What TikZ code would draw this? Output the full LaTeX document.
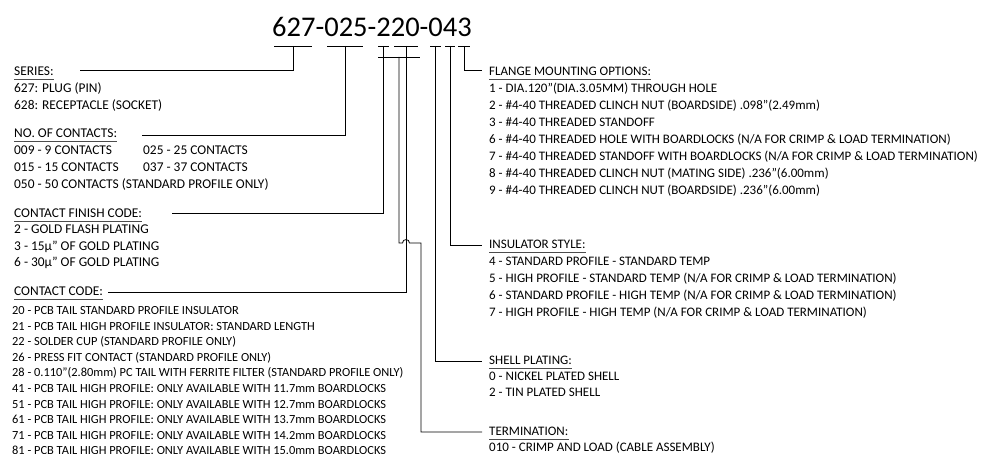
\documentclass[tikz,border=0pt]{standalone}
\usepackage{fontspec}
\setmainfont{Carlito}
\usetikzlibrary{calc}
\begin{document}
\begin{tikzpicture}[x=1pt,y=-1pt,
  txt/.style={anchor=base west,inner sep=0pt,font=\fontsize{13.4}{15}\selectfont},
  rtxt/.style={anchor=base west,inner sep=0pt,font=\fontsize{13}{15}\selectfont},
  small/.style={anchor=base west,inner sep=0pt,font=\fontsize{12.4}{13}\selectfont},
  conn/.style={draw=black,line width=0.8pt},
  ul/.style={draw=black!70,line width=0.7pt}]
\useasboundingbox (0,0) rectangle (997,454);
% title
\node[anchor=base,inner sep=0pt,font=\fontsize{28.5}{30}\selectfont] (title) at (372,37) {627-025-220-043};
% bars
\foreach \n/\a/\b in {s/274/312, n/327/363, f/378/389, c/394/418, sh/430/441, in/445/455, fl/458/470}{
  \coordinate (\n L) at (\a,46); \coordinate (\n R) at (\b,46);
  \draw[conn] (\n L) -- (\n R);
}
% left column
\node[txt] (hS) at (14,76) {SERIES:};
\node[txt] at (14,93) {627: PLUG (PIN)};
\node[txt] at (14,110) {628: RECEPTACLE (SOCKET)};
\node[txt] (hN) at (14,138) {NO. OF CONTACTS:};
\node[txt] at (14,155) {009 - 9 CONTACTS};
\node[txt] at (143,155) {025 - 25 CONTACTS};
\node[txt] at (14,172) {015 - 15 CONTACTS};
\node[txt] at (143,172) {037 - 37 CONTACTS};
\node[txt] at (14,189) {050 - 50 CONTACTS (STANDARD PROFILE ONLY)};
\node[txt] (hF) at (14,218) {CONTACT FINISH CODE:};
\node[txt] at (14,234) {2 - GOLD FLASH PLATING};
\node[txt] at (14,251) {3 - 15µ" OF GOLD PLATING};
\node[txt] at (14,267) {6 - 30µ" OF GOLD PLATING};
\node[txt] (hC) at (14,296) {CONTACT CODE:};
\foreach \t [count=\i from 0] in {
 {20 - PCB TAIL STANDARD PROFILE INSULATOR},
 {21 - PCB TAIL HIGH PROFILE INSULATOR: STANDARD LENGTH},
 {22 - SOLDER CUP (STANDARD PROFILE ONLY)},
 {26 - PRESS FIT CONTACT (STANDARD PROFILE ONLY)},
 {28 - 0.110"(2.80mm) PC TAIL WITH FERRITE FILTER (STANDARD PROFILE ONLY)},
 {41 - PCB TAIL HIGH PROFILE: ONLY AVAILABLE WITH 11.7mm BOARDLOCKS},
 {51 - PCB TAIL HIGH PROFILE: ONLY AVAILABLE WITH 12.7mm BOARDLOCKS},
 {61 - PCB TAIL HIGH PROFILE: ONLY AVAILABLE WITH 13.7mm BOARDLOCKS},
 {71 - PCB TAIL HIGH PROFILE: ONLY AVAILABLE WITH 14.2mm BOARDLOCKS},
 {81 - PCB TAIL HIGH PROFILE: ONLY AVAILABLE WITH 15.0mm BOARDLOCKS}}{
  \node[small] (cc\i) at (12,{314.5+15.6*\i}) {\t};
}
% right column
\node[rtxt] (hFl) at (489,76) {FLANGE MOUNTING OPTIONS:};
\foreach \t [count=\i from 0] in {
 {1 - DIA.120"(DIA.3.05MM) THROUGH HOLE},
 {2 - \#4-40 THREADED CLINCH NUT (BOARDSIDE) .098"(2.49mm)},
 {3 - \#4-40 THREADED STANDOFF},
 {6 - \#4-40 THREADED HOLE WITH BOARDLOCKS (N/A FOR CRIMP \& LOAD TERMINATION)},
 {7 - \#4-40 THREADED STANDOFF WITH BOARDLOCKS (N/A FOR CRIMP \& LOAD TERMINATION)},
 {8 - \#4-40 THREADED CLINCH NUT (MATING SIDE) .236"(6.00mm)},
 {9 - \#4-40 THREADED CLINCH NUT (BOARDSIDE) .236"(6.00mm)}}{
  \node[rtxt] (fl\i) at (489,{93+16.9*\i}) {\t};
}
\node[rtxt] (hI) at (489,249) {INSULATOR STYLE:};
\node[rtxt] at (489,266) {4 - STANDARD PROFILE - STANDARD TEMP};
\node[rtxt] at (489,283) {5 - HIGH PROFILE - STANDARD TEMP (N/A FOR CRIMP \& LOAD TERMINATION)};
\node[rtxt] at (489,300) {6 - STANDARD PROFILE - HIGH TEMP (N/A FOR CRIMP \& LOAD TERMINATION)};
\node[rtxt] at (489,317) {7 - HIGH PROFILE - HIGH TEMP (N/A FOR CRIMP \& LOAD TERMINATION)};
\node[rtxt] (hSh) at (489,365) {SHELL PLATING:};
\node[rtxt] at (489,381) {0 - NICKEL PLATED SHELL};
\node[rtxt] at (489,397) {2 - TIN PLATED SHELL};
\node[rtxt] (hT) at (489,436) {TERMINATION:};
\node[rtxt] at (489,452) {010 - CRIMP AND LOAD (CABLE ASSEMBLY)};
% header underlines
\foreach \h in {hS,hN,hF,hC,hFl,hI,hSh,hT}{
  \draw[ul] ([yshift=-3.5pt]\h.base west) -- ([yshift=-3.5pt]\h.base east);
}
% connector points
\coordinate (sE) at (80,70);
\coordinate (nE) at (142,135);
\coordinate (fE) at (172,213);
\coordinate (cE) at (108,292);
\coordinate (tE) at (482,432);
\coordinate (shE) at (482,361);
\coordinate (inE) at (482,245);
\coordinate (flE) at (482,70);
% connectors
\draw[conn] ($(sL)!0.5!(sR)$) |- (sE);
\draw[conn] ($(nL)!0.5!(nR)$) |- (nE);
\draw[conn] ($(fL)!0.5!(fR)$) |- (fE);
\draw[conn] ($(cL)!0.5!(cR)$) |- (cE);
\draw[conn] ($(shL)!0.5!(shR)$) |- (shE);
\draw[conn] ($(inL)!0.5!(inR)$) |- (inE);
\draw[conn] ($(flL)!0.5!(flR)$) |- (flE);
% termination bracket with hop
\coordinate (bL) at (378,57); \coordinate (bR) at (420,57);
\draw[conn] (bL) -- (bR);
\draw[conn] (399,57) -- (399,243) -- (402.5,243) .. controls (402.5,238.5) and (409.5,238.5) .. (409.5,243) -- (421,243) |- (tE);
\end{tikzpicture}
\end{document}
